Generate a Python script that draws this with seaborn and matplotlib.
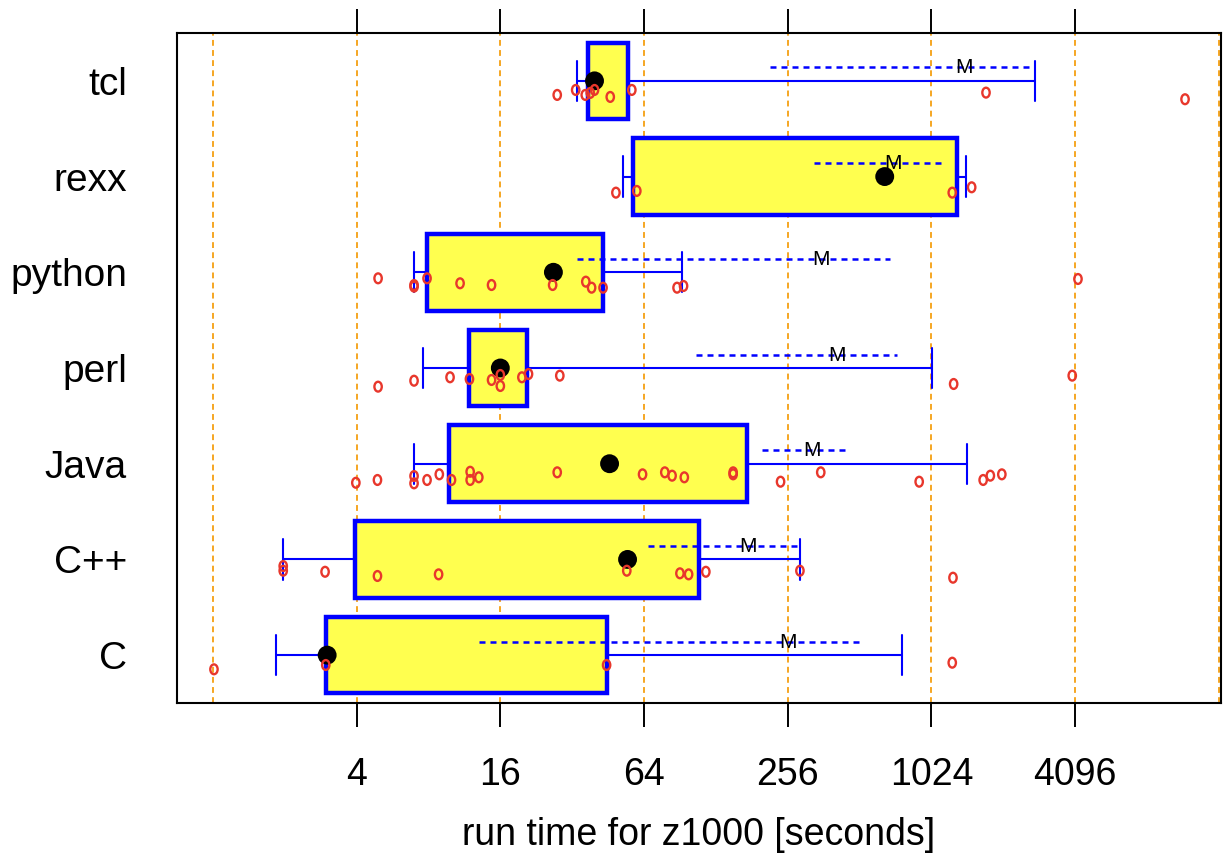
import numpy as np
import pandas as pd
import seaborn as sns
import matplotlib.pyplot as plt
from matplotlib.path import Path
from matplotlib.markers import MarkerStyle
from matplotlib.transforms import Affine2D
from matplotlib.ticker import NullLocator

# languages from bottom to top
languages = ['C', 'C++', 'Java', 'perl', 'python', 'rexx', 'tcl']

# box statistics, run time in seconds
q1 = [2.97, 3.95, 9.71, 11.88, 7.89, 57.3, 37.3]
q3 = [44.6, 108.4, 173.6, 20.7, 43.1, 1314, 54.6]
whis_lo = [1.83, 1.97, 6.96, 7.62, 6.96, 52.3, 33.6]
whis_hi = [770.6, 288, 1448, 1031, 92.4, 1428, 2778]
median = [3.01, 54.6, 45.9, 16.0, 26.7, 652.6, 39.7]

# mean (M) and its dashed band
mean = [256, 174.9, 324, 410, 354.6, 704, 1399]
mean_lo = [13.0, 66.7, 199.5, 106.1, 33.4, 328.5, 215]
mean_hi = [508.5, 284, 461.4, 734, 690, 1121, 2665]

# individual runs and their vertical jitter (in row units)
times_c = [1.01, 2.97, 44.6, 1252]
jit_c = [-0.148, -0.103, -0.103, -0.079]
times_cpp = [1.97, 1.97, 2.95, 4.89, 8.82, 54.2, 90.5, 98.4, 116.2, 288, 1261]
jit_cpp = [-0.069, -0.118, -0.129, -0.173, -0.156, -0.118, -0.145, -0.156, -0.129, -0.118, -0.191]
times_java = [3.97, 4.89, 6.96, 6.96, 7.89, 8.88, 9.99, 11.96, 11.96, 13.0, 27.7, 63.1,
              78.2, 83.9, 94.4, 151.2, 151.2, 238.9, 352.1, 910, 1687, 1808, 2020]
jit_java = [-0.199, -0.170, -0.129, -0.205, -0.170, -0.111, -0.170, -0.084, -0.170, -0.142, -0.090, -0.111,
            -0.090, -0.125, -0.142, -0.090, -0.111, -0.188, -0.090, -0.188, -0.170, -0.125, -0.111]
times_perl = [4.92, 6.96, 9.85, 11.88, 14.7, 16.0, 16.0, 19.7, 21.0, 28.4, 1269, 3984]
jit_perl = [-0.195, -0.133, -0.097, -0.115, -0.125, -0.073, -0.188, -0.097, -0.063, -0.080, -0.167, -0.080]
times_python = [4.92, 6.96, 6.96, 7.89, 10.85, 14.7, 26.5, 36.5, 38.6, 43.1, 88.0, 93.7, 4211]
jit_python = [-0.063, -0.150, -0.133, -0.063, -0.115, -0.133, -0.133, -0.098, -0.161, -0.161, -0.161, -0.143, -0.070]
times_rexx = [48.8, 59.7, 1252, 1510]
jit_rexx = [-0.168, -0.150, -0.168, -0.112]
times_tcl = [27.7, 33.1, 36.3, 38.1, 39.7, 46.2, 56.9, 1734, 11829]
jit_tcl = [-0.147, -0.095, -0.147, -0.126, -0.095, -0.168, -0.095, -0.123, -0.192]

tick_vals = [4, 16, 64, 256, 1024, 4096]
grid_vals = [1, 4, 16, 64, 256, 1024, 4096, 16384]

BLUE = '#0000ff'
YELLOW = '#ffff4f'
RED = '#e8372c'
ORANGE = '#f5a623'

sns.set_theme(style='ticks')
plt.rcParams['font.family'] = ['Liberation Sans', 'DejaVu Sans']
plt.rcParams['text.color'] = 'black'
plt.rcParams['xtick.labelcolor'] = 'black'
plt.rcParams['ytick.labelcolor'] = 'black'
plt.rcParams['axes.labelcolor'] = 'black'

pos = np.arange(1, len(languages) + 1)

rows = []
for i, (t, j) in enumerate([(times_c, jit_c), (times_cpp, jit_cpp), (times_java, jit_java),
                            (times_perl, jit_perl), (times_python, jit_python),
                            (times_rexx, jit_rexx), (times_tcl, jit_tcl)]):
    for tv, jv in zip(t, j):
        rows.append({'lang': languages[i], 'time': tv, 'ypos': pos[i] + jv})
df = pd.DataFrame(rows)

fig, ax = plt.subplots(figsize=(12.25, 8.57), dpi=100)
fig.subplots_adjust(left=0.1445, right=0.9967, bottom=0.1797, top=0.9615)
ax.set_xscale('log', base=2)

for g in grid_vals:
    ax.axvline(g, color=ORANGE, lw=1.4, ls=(0, (3, 2.2)), zorder=0)

stats = [dict(med=median[i], q1=q1[i], q3=q3[i], whislo=whis_lo[i], whishi=whis_hi[i], fliers=[])
         for i in range(len(languages))]
ax.bxp(stats, positions=pos, widths=0.8, orientation='horizontal', patch_artist=True,
       showfliers=False, capwidths=0.42,
       boxprops=dict(facecolor=YELLOW, edgecolor=BLUE, linewidth=3.2),
       whiskerprops=dict(color=BLUE, linewidth=1.5),
       capprops=dict(color=BLUE, linewidth=1.5),
       medianprops=dict(linewidth=0), zorder=2)

# mean +- band
ax.hlines(pos + 0.14, mean_lo, mean_hi, colors=BLUE, linestyles=(0, (2.4, 2)), lw=1.8, zorder=3)
for m, p in zip(mean, pos):
    ax.text(m, p + 0.135, 'M', ha='center', va='center', fontsize=15, color='black', zorder=4)

# median dots
sns.scatterplot(x=median, y=pos, color='black', s=185, edgecolor='none', zorder=5, ax=ax, legend=False)

# individual runs as small red 'o'
oval = MarkerStyle(Path.unit_circle().transformed(Affine2D().scale(0.75, 1.0)))
sns.scatterplot(data=df, x='time', y='ypos', marker=oval, s=50, facecolor='none',
                edgecolor=RED, linewidth=1.7, zorder=6, ax=ax, legend=False)

ax.set_xlim(2 ** -0.5, 2 ** 14.03)
ax.set_ylim(0.5, 7.5)
ax.set_xticks(tick_vals, labels=[str(v) for v in tick_vals])
ax.xaxis.set_minor_locator(NullLocator())
ax.set_yticks(pos, labels=languages)
ax.tick_params(axis='x', which='major', top=True, bottom=True, labeltop=False, length=17,
               width=1.4, pad=22, labelsize=27, direction='out', color='black')
ax.tick_params(axis='y', length=0, pad=36, labelsize=28)
for s in ax.spines.values():
    s.set_visible(True)
    s.set_linewidth(1.5)
    s.set_color('black')
ax.set_xlabel('run time for z1000 [seconds]', fontsize=27, labelpad=17, color='black')
ax.set_ylabel('')

fig.savefig('out.png', dpi=100)
